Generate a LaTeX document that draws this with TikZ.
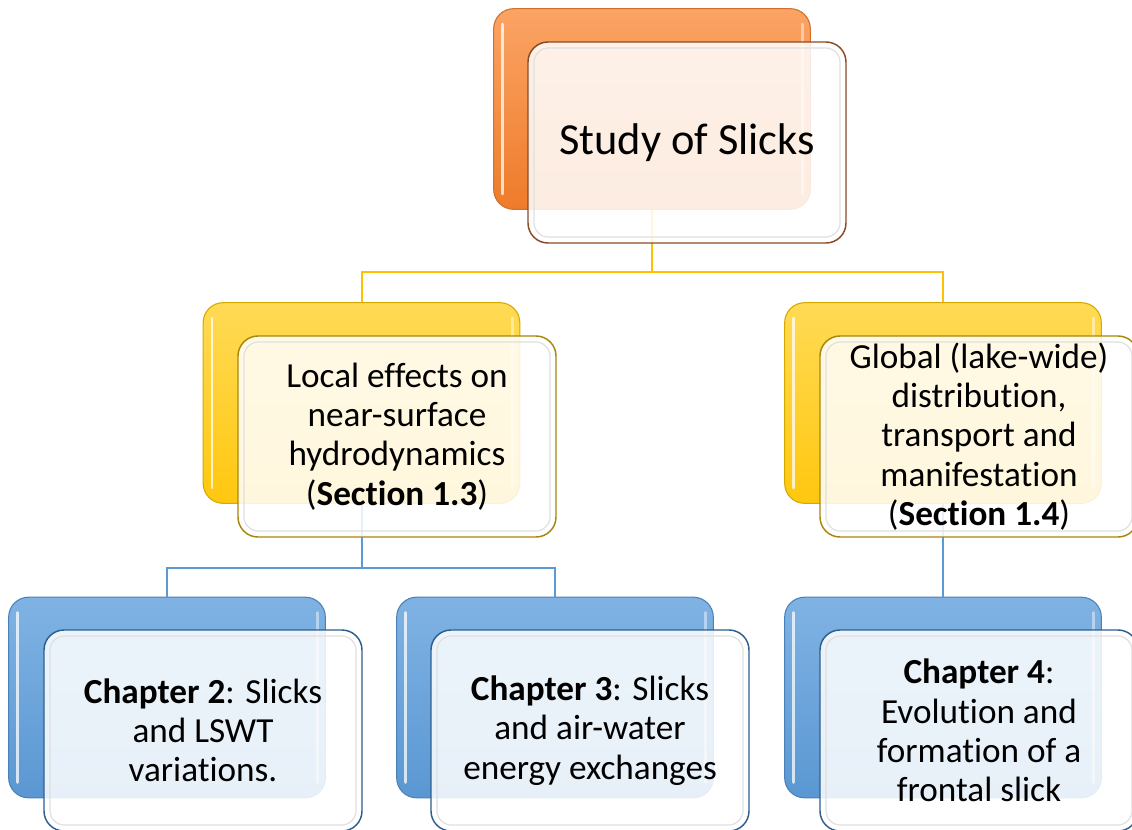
\documentclass[tikz,border=0pt]{standalone}
\usepackage{fontspec}
\setmainfont[Ligatures=NoCommon]{Carlito}
\newcommand\mfnt{\fontsize{26.4}{29.4}\selectfont}
\newcommand\tfnt{\fontsize{33.3}{38}\selectfont}
\definecolor{otop}{HTML}{FBA465}
\definecolor{obot}{HTML}{EE7B2A}
\definecolor{oedge}{HTML}{D0702C}
\definecolor{ofront}{HTML}{8B4A23}
\definecolor{ylt}{HTML}{FFDA55}
\definecolor{ybt}{HTML}{FFC70F}
\definecolor{yedge}{HTML}{D4A900}
\definecolor{yfront}{HTML}{A8870A}
\definecolor{btop}{HTML}{80B3E4}
\definecolor{bbot}{HTML}{5A97D2}
\definecolor{bedge}{HTML}{4A82B8}
\definecolor{bfront}{HTML}{2F5F8E}
\definecolor{ylinec}{HTML}{FFC000}
\definecolor{blinec}{HTML}{5B9BD5}
\tikzset{
  backbox/.style={draw, line width=0.8pt, rounded corners=15pt, minimum width=237.5pt, minimum height=150.5pt, inner sep=0pt},
  oback/.style={backbox, draw=oedge, top color=otop, bottom color=obot},
  yback/.style={backbox, draw=yedge, top color=ylt, bottom color=ybt},
  bback/.style={backbox, draw=bedge, top color=btop, bottom color=bbot},
  frontbox/.style={rounded corners=15pt, minimum width=238.5pt, minimum height=150.75pt, inner sep=0pt, align=center, fill=white, fill opacity=0.86, text opacity=1, line width=1.1pt, font=\mfnt},
  ofrontbox/.style={frontbox, draw=ofront, font=\tfnt},
  yfrontbox/.style={frontbox, draw=yfront},
  bfrontbox/.style={frontbox, draw=bfront},
  hl/.style={white, opacity=0.75, line width=2.2pt, line cap=round},
  hr/.style={white, opacity=0.45, line width=2.2pt, line cap=round},
  innerln/.style={black!12, line width=0.9pt, rounded corners=11pt},
  yline/.style={ylinec, line width=1.5pt},
  bline/.style={blinec, line width=1.5pt}
}
\newcommand\hilite[1]{%
  \draw[hl] ([xshift=7pt,yshift=-12pt]#1.north west) -- ([xshift=7pt,yshift=12pt]#1.south west);
  \draw[hr] ([xshift=-6pt,yshift=-12pt]#1.north east) -- ([xshift=-6pt,yshift=12pt]#1.south east);}
\newcommand\innerglow[1]{%
  \draw[innerln] ([xshift=5pt,yshift=-5pt]#1.north west) rectangle ([xshift=-5pt,yshift=5pt]#1.south east);}
\begin{document}
\begin{tikzpicture}[x=0.75pt,y=-0.75pt]
\clip (0,0) rectangle (1132,829);
\fill[white] (0,0) rectangle (1132,829);

% back boxes
\node[oback] (topB) at (652,109) {};
\node[yback] (midLB) at (361.5,403) {};
\node[yback] (midRB) at (943,403) {};
\node[bback] (botLB) at (167,697.5) {};
\node[bback] (botMB) at (555,697.5) {};
\node[bback] (botRB) at (943,697.5) {};
\hilite{topB}\hilite{midLB}\hilite{midRB}\hilite{botLB}\hilite{botMB}\hilite{botRB}

% connectors
\draw[yline] (topB.south) -- ++(0,62) -| (midLB.north);
\draw[yline] (topB.south) ++(0,62) -| (midRB.north);
\draw[bline] (midLB.south) -- ++(0,64) -| (botLB.north);
\draw[bline] (midLB.south) ++(0,64) -| (botMB.north);
\draw[bline] (midRB.south) -- (botRB.north);

% front boxes
\node[ofrontbox] (topF) at (687,142.5) {Study of Slicks};
\node[yfrontbox] (midLF) at (397,436.5) {Local effects on\\near-surface\\hydrodynamics\\(\textbf{Section 1.3})};
\node[yfrontbox] (midRF) at (979,436.5) {Global (lake-wide)\\distribution,\\transport and\\manifestation\\(\textbf{Section 1.4})};
\node[bfrontbox] (botLF) at (203,730.5) {\textbf{Chapter 2}: Slicks\\and LSWT\\variations.};
\node[bfrontbox] (botMF) at (590,730.5) {\textbf{Chapter 3}: Slicks\\and air-water\\energy exchanges};
\node[bfrontbox] (botRF) at (979,730.5) {\textbf{Chapter 4}:\\Evolution and\\formation of a\\frontal slick};
\innerglow{topF}\innerglow{midLF}\innerglow{midRF}\innerglow{botLF}\innerglow{botMF}\innerglow{botRF}
\end{tikzpicture}
\end{document}
